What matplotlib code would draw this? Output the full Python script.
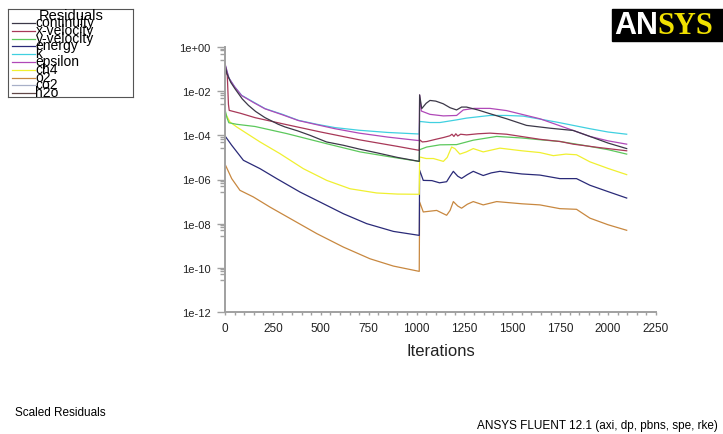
import numpy as np
import matplotlib.pyplot as plt
from matplotlib.patches import Rectangle

plt.rcParams['font.family'] = ['Liberation Sans', 'DejaVu Sans']

# Residual histories: iteration number and log10 of the scaled residual
continuity_it = [0, 10, 30, 52, 90, 122, 160, 209, 278, 313, 380, 444, 530, 618, 700, 792, 900, 1014,
                 1016, 1027, 1050, 1070, 1100, 1139, 1175, 1209, 1235, 1261, 1320, 1383, 1470, 1574,
                 1700, 1818, 1905, 2000, 2097]
continuity_lg = [-0.78, -1.2, -1.6, -1.89, -2.35, -2.64, -2.92, -3.2, -3.5, -3.62, -3.8, -4.0, -4.3,
                 -4.45, -4.62, -4.79, -5.0, -5.18,
                 -2.17, -2.79, -2.55, -2.42, -2.45, -2.57, -2.75, -2.85, -2.72, -2.72, -2.85, -3.02,
                 -3.25, -3.55, -3.68, -3.78, -4.05, -4.35, -4.6]

xvel_it = [0, 12, 18, 22, 80, 157, 313, 500, 700, 900, 1014,
           1016, 1030, 1053, 1100, 1140, 1174, 1185, 1195, 1205, 1215, 1230, 1261, 1320, 1383,
           1470, 1644, 1750, 1818, 1950, 2097]
xvel_lg = [-0.95, -1.3, -2.6, -2.87, -3.0, -3.2, -3.5, -3.85, -4.2, -4.5, -4.68,
           -4.2, -4.3, -4.28, -4.18, -4.1, -4.02, -3.95, -4.05, -3.93, -4.03, -3.95, -3.98, -3.93,
           -3.9, -3.95, -4.18, -4.28, -4.4, -4.55, -4.7]

yvel_it = [2, 10, 20, 61, 157, 322, 531, 705, 880, 1014,
           1016, 1053, 1122, 1209, 1296, 1418, 1550, 1644, 1750, 1870, 2000, 2097]
yvel_lg = [-2.9, -3.2, -3.43, -3.5, -3.6, -3.92, -4.38, -4.75, -5.0, -5.18,
           -4.65, -4.53, -4.43, -4.42, -4.22, -4.05, -4.12, -4.2, -4.28, -4.45, -4.65, -4.85]

energy_it = [2, 35, 96, 183, 270, 392, 496, 618, 740, 879, 1014,
             1016, 1035, 1080, 1120, 1157, 1175, 1192, 1215, 1235, 1265, 1296, 1320, 1348, 1390,
             1435, 1550, 1644, 1748, 1835, 1905, 2000, 2097]
energy_lg = [-4.05, -4.45, -5.13, -5.51, -5.96, -6.57, -7.02, -7.55, -8.0, -8.35, -8.53,
             -5.58, -6.04, -6.05, -6.15, -6.1, -5.85, -5.63, -5.85, -5.95, -5.78, -5.63, -5.72,
             -5.82, -5.7, -5.63, -5.75, -5.8, -5.96, -5.96, -6.26, -6.55, -6.84]

k_it = [0, 20, 50, 87, 150, 209, 300, 383, 480, 574, 700, 850, 1014,
        1016, 1070, 1122, 1209, 1261, 1383, 1470, 1557, 1731, 1818, 1905, 2000, 2097]
k_lg = [-0.8, -1.4, -1.8, -2.19, -2.5, -2.79, -3.05, -3.32, -3.5, -3.65, -3.77, -3.87, -3.94,
        -3.37, -3.42, -3.42, -3.3, -3.22, -3.1, -3.1, -3.13, -3.4, -3.55, -3.7, -3.85, -3.95]

eps_it = [0, 20, 50, 87, 150, 209, 300, 383, 480, 574, 700, 850, 1014,
          1016, 1025, 1070, 1140, 1209, 1244, 1300, 1383, 1470, 1644, 1818, 1905, 2000, 2097]
eps_lg = [-0.75, -1.4, -1.8, -2.2, -2.52, -2.8, -3.07, -3.33, -3.52, -3.7, -3.9, -4.08, -4.24,
          -2.17, -2.9, -3.05, -3.12, -3.1, -2.85, -2.78, -2.78, -2.88, -3.25, -3.78, -4.05,
          -4.25, -4.4]

ch4_it = [3, 26, 61, 120, 183, 287, 409, 531, 653, 792, 900, 1014,
          1016, 1050, 1088, 1140, 1160, 1183, 1200, 1226, 1260, 1296, 1348, 1435, 1550, 1644,
          1714, 1780, 1835, 1905, 2000, 2097]
ch4_lg = [-3.02, -3.4, -3.62, -3.95, -4.3, -4.83, -5.51, -6.04, -6.42, -6.61, -6.66, -6.67,
          -4.98, -5.05, -5.05, -5.18, -5.0, -4.53, -4.6, -4.85, -4.75, -4.6, -4.75, -4.58, -4.7,
          -4.78, -4.92, -4.85, -4.88, -5.2, -5.5, -5.78]

o2_it = [3, 35, 78, 148, 235, 357, 479, 618, 757, 879, 1014,
         1016, 1035, 1105, 1157, 1175, 1192, 1215, 1235, 1265, 1296, 1348, 1418, 1550, 1644,
         1748, 1835, 1905, 2000, 2097]
o2_lg = [-5.36, -5.96, -6.49, -6.79, -7.25, -7.85, -8.45, -9.06, -9.59, -9.92, -10.16,
         -7.02, -7.47, -7.4, -7.62, -7.4, -7.0, -7.2, -7.3, -7.12, -7.0, -7.15, -7.0, -7.1,
         -7.15, -7.32, -7.35, -7.75, -8.05, -8.3]

names = ['continuity', 'x-velocity', 'y-velocity', 'energy', 'k', 'epsilon', 'ch4', 'o2', 'co2', 'h2o']
colors = ['#3c3848', '#a83858', '#5cc85c', '#2a2a78', '#40d0e0', '#b048b8', '#f0f030',
          '#c88840', '#a8b0c8', '#604848']

series = {
    'continuity': (continuity_it, continuity_lg),
    'x-velocity': (xvel_it, xvel_lg),
    'y-velocity': (yvel_it, yvel_lg),
    'energy': (energy_it, energy_lg),
    'k': (k_it, k_lg),
    'epsilon': (eps_it, eps_lg),
    'ch4': (ch4_it, ch4_lg),
    'o2': (o2_it, o2_lg),
}

W, H = 723, 435
fig = plt.figure(figsize=(W / 100, H / 100), dpi=100)
ax = fig.add_axes([225 / W, 1 - 313 / H, (656 - 225) / W, (313 - 48) / H])

# draw bottom-most curves first so the top ones sit over them
for name in ['o2', 'energy', 'ch4', 'y-velocity', 'x-velocity', 'k', 'epsilon', 'continuity']:
    it, lg = series[name]
    ax.plot(it, np.power(10.0, lg), color=colors[names.index(name)], lw=0.9)

ax.set_yscale('log')
ax.set_xlim(0, 2250)
ax.set_ylim(1e-12, 1)

axis_grey = '#a0a0a0'
for s in ['top', 'right']:
    ax.spines[s].set_visible(False)
for s in ['left', 'bottom']:
    ax.spines[s].set_color(axis_grey)
    ax.spines[s].set_linewidth(1.4)

major_y = [10.0 ** e for e in range(0, -13, -2)]
ax.set_yticks(major_y)
ax.set_yticklabels(['1e+%02d' % 0] + ['1e-%02d' % -e for e in range(-2, -13, -2)])
minor_y = [m * f for m in major_y[:-1] for f in (0.85, 0.7, 0.5, 0.27)]
ax.set_yticks(minor_y, minor=True)
ax.set_xticks(range(0, 2251, 250))
ax.set_xticks(range(0, 2251, 50), minor=True)

ax.tick_params(axis='y', which='major', length=6, width=1, color=axis_grey, pad=4.5,
               labelsize=8, labelcolor='#222222')
ax.tick_params(axis='y', which='minor', length=3.5, width=1, color=axis_grey)
ax.tick_params(axis='x', which='both', length=2.5, width=1, color=axis_grey, pad=5,
               labelsize=8.5, labelcolor='#222222')
ax.set_xlabel('Iterations', fontsize=12, labelpad=6, color='#222222')

# legend box, laid out in pixel units
lax = fig.add_axes([8 / W, 1 - 98 / H, (133 - 8) / W, (98 - 10) / H])
lax.set_xlim(8, 133)
lax.set_ylim(98, 10)
lax.set_xticks([])
lax.set_yticks([])
for s in lax.spines.values():
    s.set_linewidth(0.8)
    s.set_color('#555555')
lax.text(71, 20.5, 'Residuals', ha='center', va='baseline', fontsize=10.5, clip_on=True)
for i, (name, c) in enumerate(zip(names, colors)):
    y = 24 + 7.8 * i
    lax.plot([12, 35], [y, y], color=c, lw=0.9, clip_on=True)
    lax.text(35.5, y + 3, name, ha='left', va='baseline', fontsize=10, clip_on=True)

# logo badge
fig.patches.append(Rectangle((612 / W, 1 - 42 / H), (W - 612) / W, 32 / H,
                             transform=fig.transFigure, color='black', zorder=1))
fig.text(614 / W, 1 - 34 / H, 'AN', fontsize=22, fontweight='bold', color='white',
         ha='left', va='baseline', zorder=2)
fig.text(657 / W, 1 - 34 / H, 'SYS', fontsize=22, fontweight='bold', color='#f0e000',
         family='Liberation Serif', ha='left', va='baseline', zorder=2)

fig.text(15 / W, 1 - 413 / H, 'Scaled Residuals', fontsize=8.5, ha='left', va='center')
fig.text(718 / W, 1 - 426 / H, 'ANSYS FLUENT 12.1 (axi, dp, pbns, spe, rke)', fontsize=8.5,
         ha='right', va='center')

fig.savefig('out.png', dpi=100)
